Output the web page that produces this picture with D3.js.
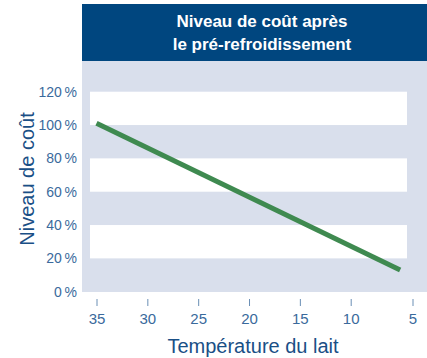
<!DOCTYPE html>
<html>
<head>
<meta charset="utf-8">
<script src="https://cdn.jsdelivr.net/npm/d3@7/dist/d3.min.js"></script>
<style>
  html, body { margin: 0; padding: 0; background: #fff; }
  svg { display: block; font-family: "Liberation Sans", Arial, Helvetica, sans-serif; }
</style>
</head>
<body>
<svg id="chart" width="427" height="358"></svg>
<script>
// Cost level after pre-cooling, by milk temperature
const titleLines = ["Niveau de coût après", "le pré-refroidissement"];
const temperatures = [35, 6];
const costLevels = [101, 13];
const xTicks = [35, 30, 25, 20, 15, 10, 5];
const yTicks = [0, 20, 40, 60, 80, 100, 120];
const bandRanges = [[100, 120], [60, 80], [20, 40]];
const yTitle = "Niveau de coût";
const xTitle = "Température du lait";

const svg = d3.select("#chart");

const panel = { x0: 82, x1: 427, y0: 61, y1: 292 };

// the last axis step is drawn wider than the others
const x = d3.scaleLinear().domain([35, 10, 5]).range([96.5, 350.7, 412.5]);
const y = d3.scaleLinear().domain([0, 120]).range([291.7, 91.7]);

// title banner
svg.append("rect")
  .attr("x", panel.x0).attr("y", 4)
  .attr("width", panel.x1 - panel.x0).attr("height", panel.y0 - 4)
  .attr("fill", "#00467f");

svg.append("g").selectAll("text").data(titleLines).join("text")
  .attr("x", 262).attr("y", (d, i) => 27 + i * 23)
  .attr("text-anchor", "middle")
  .attr("fill", "#fff")
  .attr("font-weight", "bold")
  .attr("font-size", 17)
  .text(d => d);

// plot background and white bands
svg.append("rect")
  .attr("x", panel.x0).attr("y", panel.y0)
  .attr("width", panel.x1 - panel.x0).attr("height", panel.y1 - panel.y0)
  .attr("fill", "#d9dfec");

svg.append("g").selectAll("rect").data(bandRanges).join("rect")
  .attr("x", 90).attr("width", 407 - 90)
  .attr("y", d => y(d[1]))
  .attr("height", d => y(d[0]) - y(d[1]))
  .attr("fill", "#fff");

// y axis labels
const yAxis = svg.append("g")
  .attr("transform", `translate(77,0)`)
  .call(d3.axisLeft(y).tickValues(yTicks).tickSize(0).tickPadding(0)
    .tickFormat(d => d + "\u2009%"));
yAxis.select(".domain").remove();
yAxis.selectAll("text")
  .attr("fill", "#3a6a9c")
  .attr("font-size", 14)
  .attr("font-family", "Liberation Sans, Arial, sans-serif");

// x axis
const xAxis = svg.append("g")
  .attr("transform", `translate(0,299)`)
  .call(d3.axisBottom(x).tickValues(xTicks).tickSize(7).tickPadding(7)
    .tickFormat(d3.format("d")));
xAxis.select(".domain").remove();
xAxis.selectAll("line").attr("stroke", "#6a8fb5").attr("stroke-width", 1);
xAxis.selectAll("text")
  .attr("fill", "#3a6a9c")
  .attr("font-size", 15)
  .attr("font-family", "Liberation Sans, Arial, sans-serif");

// axis titles
svg.append("text")
  .attr("transform", "translate(33.5,179) rotate(-90)")
  .attr("text-anchor", "middle")
  .attr("fill", "#1a4f86")
  .attr("font-size", 20)
  .text(yTitle);

svg.append("text")
  .attr("x", 253).attr("y", 352.5)
  .attr("text-anchor", "middle")
  .attr("fill", "#1a4f86")
  .attr("font-size", 20)
  .text(xTitle);

// cost line
const line = d3.line().x(d => x(d[0])).y(d => y(d[1]));
svg.append("path")
  .datum(temperatures.map((t, i) => [t, costLevels[i]]))
  .attr("d", line)
  .attr("fill", "none")
  .attr("stroke", "#3f8a50")
  .attr("stroke-width", 5);
</script>
</body>
</html>
